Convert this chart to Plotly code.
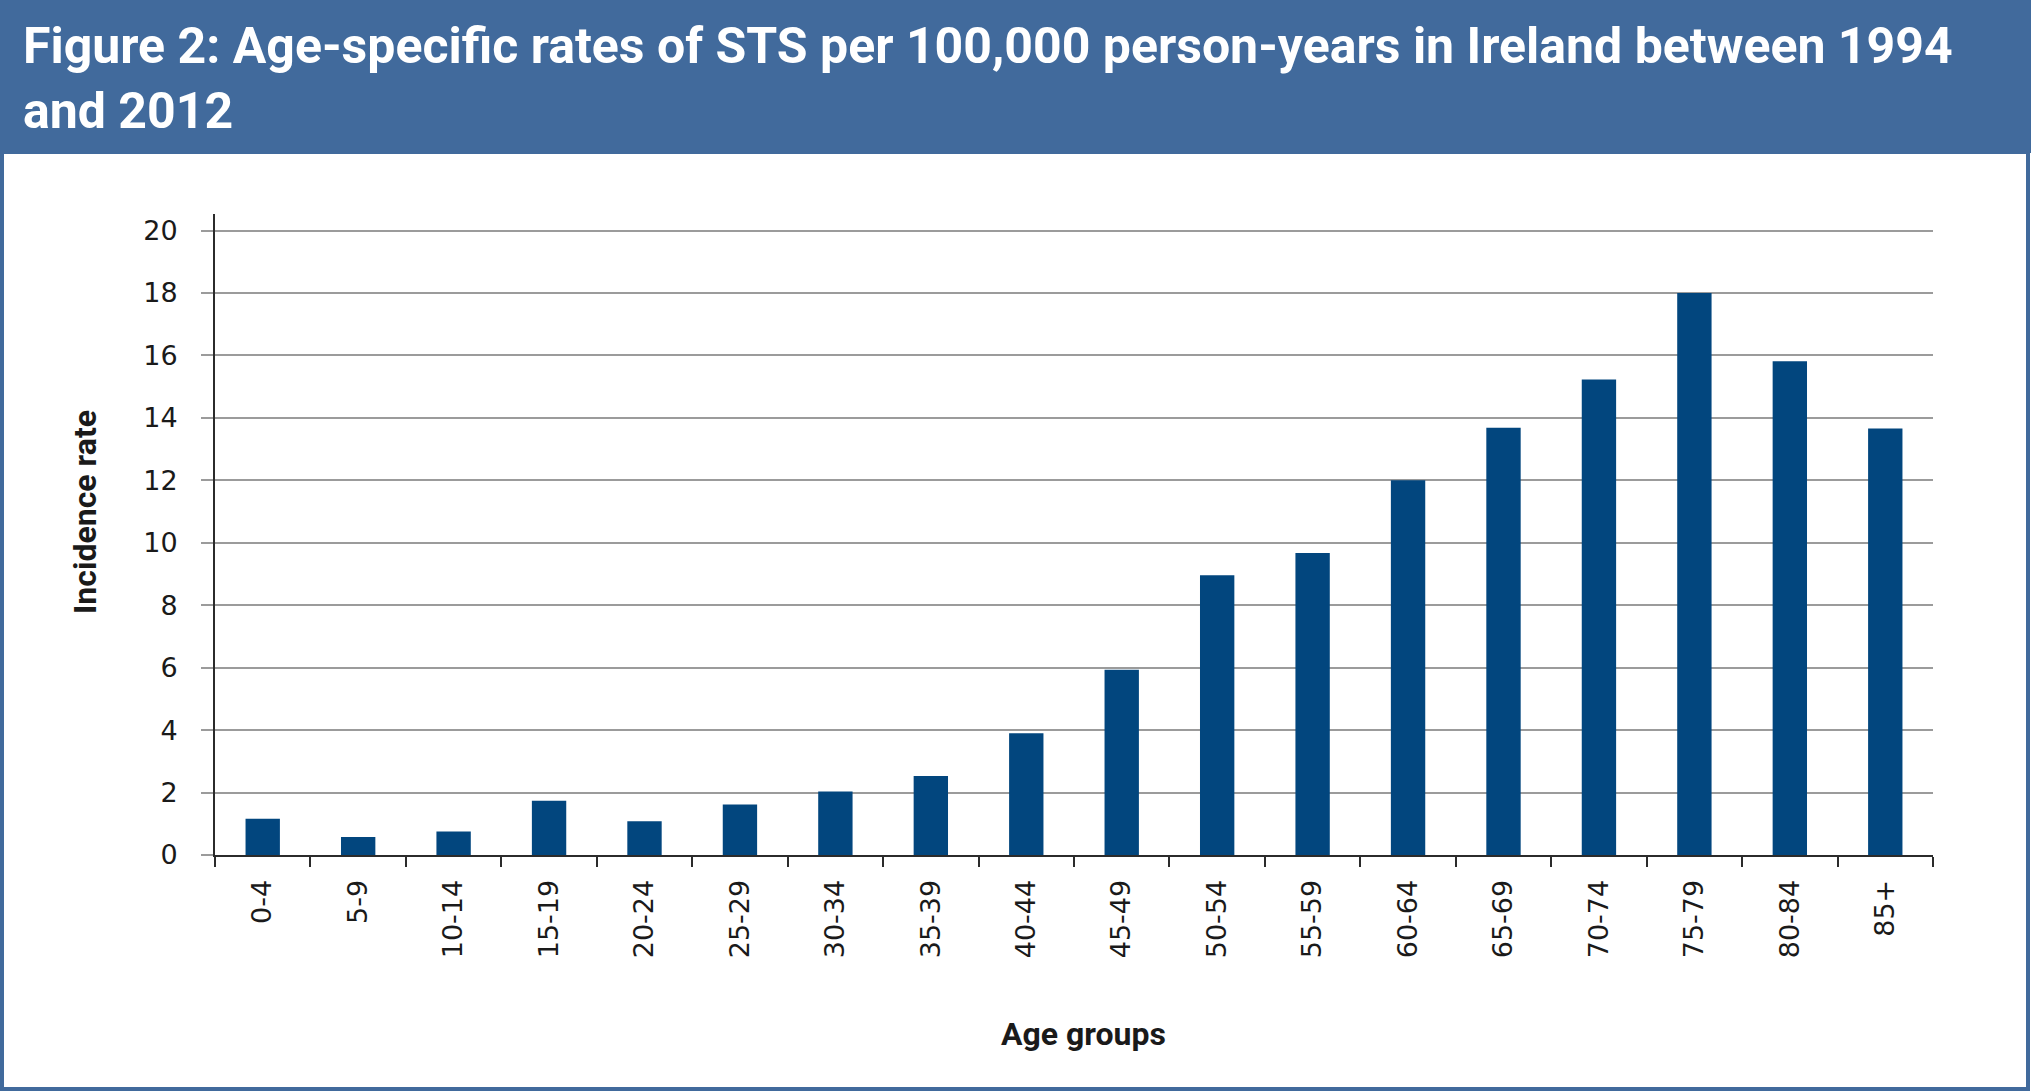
import plotly.graph_objects as go

age_groups = ["0-4", "5-9", "10-14", "15-19", "20-24", "25-29", "30-34", "35-39",
              "40-44", "45-49", "50-54", "55-59", "60-64", "65-69", "70-74", "75-79",
              "80-84", "85+"]
incidence_rate = [1.16, 0.58, 0.75, 1.74, 1.08, 1.62, 2.03, 2.53, 3.9, 5.93,
                  8.96, 9.67, 12.0, 13.68, 15.23, 18.0, 15.81, 13.66]
y_ticks = [0, 2, 4, 6, 8, 10, 12, 14, 16, 18, 20]

title_text = ("Figure 2: Age-specific rates of STS per 100,000 person-years in Ireland between 1994"
              "<br>and 2012")
x_title = "Age groups"
y_title = "Incidence rate"

W, H = 2031, 1091
L, R, T, B = 215, 98, 214, 236
PW, PH = W - L - R, H - T - B


def px(x):
    return (x - L) / PW


def py(y):
    return (H - B - y) / PH


HEADER = "#416a9c"
BAR = "#02467e"
GRID = "#9b9b9b"
AXIS = "#2b2b2b"
TITLE_FONT = "Roboto, sans-serif"
TICK_FONT = "DejaVu Sans, sans-serif"

fig = go.Figure(go.Bar(x=age_groups, y=incidence_rate, marker_color=BAR,
                       marker_line_width=0, width=0.36))

fig.update_layout(
    width=W, height=H,
    margin=dict(l=L, r=R, t=T, b=B),
    paper_bgcolor="white", plot_bgcolor="white",
    showlegend=False,
    shapes=[
        dict(type="rect", xref="paper", yref="paper", x0=px(0), x1=px(W), y0=py(153), y1=py(0),
             fillcolor=HEADER, line_width=0, layer="below"),
        dict(type="rect", xref="paper", yref="paper", x0=px(2), x1=px(2028), y0=py(1089), y1=py(152),
             fillcolor="rgba(0,0,0,0)", line=dict(color=HEADER, width=4), layer="below"),
    ],
    annotations=[
        dict(text=title_text, xref="paper", yref="paper", x=px(21), y=py(15),
             xanchor="left", yanchor="top", align="left", showarrow=False,
             font=dict(family=TITLE_FONT, size=50, color="white", weight="bold")),
        dict(text=x_title, xref="paper", yref="paper", x=px(1083), y=py(1034),
             xanchor="center", yanchor="middle", showarrow=False,
             font=dict(family=TITLE_FONT, size=32, color="#1a1a1a", weight="bold")),
        dict(text=y_title, xref="paper", yref="paper", x=px(85), y=py(512),
             xanchor="center", yanchor="middle", showarrow=False, textangle=-90,
             font=dict(family=TITLE_FONT, size=32, color="#1a1a1a", weight="bold")),
    ],
)

fig.update_yaxes(
    range=[0, 20.53], tickvals=y_ticks, showgrid=True, gridcolor=GRID, gridwidth=2,
    zeroline=False, showline=True, linecolor=AXIS, linewidth=2,
    ticks="outside", ticklen=12, tickcolor=GRID, tickwidth=2,
    ticklabelstandoff=18,
    tickfont=dict(family=TICK_FONT, size=27, color="#1a1a1a"),
)
fig.update_xaxes(
    type="category", showgrid=False, showline=True, linecolor=AXIS, linewidth=2,
    ticks="outside", ticklen=10, tickcolor=AXIS, tickwidth=2, tickson="boundaries",
    tickangle=-90, ticklabelstandoff=12,
    tickfont=dict(family=TICK_FONT, size=27, color="#1a1a1a"),
)

fig.write_html("out.html", config={"displayModeBar": False},
               post_script="document.body.style.margin='0';")
